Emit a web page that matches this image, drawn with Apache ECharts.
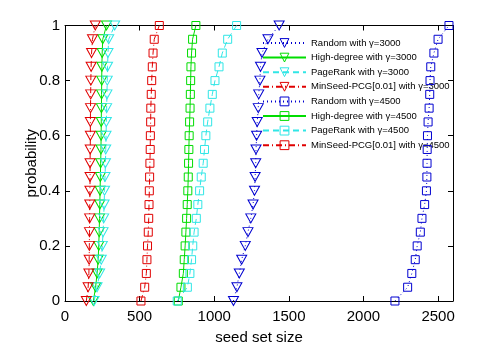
<!DOCTYPE html>
<html><head><meta charset="utf-8">
<script src="https://cdn.jsdelivr.net/npm/echarts@6/dist/echarts.min.js"></script>
<style>html,body{margin:0;padding:0;background:#fff}#c{width:501px;height:350px}</style>
</head><body><div id="c"></div>
<script>
const probability = [0, 0.05, 0.1, 0.15, 0.2, 0.25, 0.3, 0.35, 0.4, 0.45, 0.5, 0.55, 0.6, 0.65, 0.7, 0.75, 0.8, 0.85, 0.9, 0.95, 1];
const xTicks = [0, 500, 1000, 1500, 2000, 2500];
const yTicks = [0, 0.2, 0.4, 0.6, 0.8, 1];

const random3000     = [1129, 1152, 1168, 1184, 1208, 1226, 1245, 1260, 1270, 1274, 1278, 1280, 1284, 1288, 1295, 1298, 1306, 1310, 1320, 1360, 1435];
const highDegree3000 = [190, 205, 215, 222, 226, 229, 231, 233, 235, 237, 239, 241, 242, 243, 244, 245, 246, 247, 249, 253, 278];
const pageRank3000   = [195, 215, 232, 243, 250, 255, 259, 262, 265, 268, 271, 273, 275, 277, 279, 281, 283, 285, 288, 293, 333];
const minSeed3000    = [143, 155, 160, 162, 163, 164, 165, 166, 167, 168, 168, 169, 170, 170, 171, 172, 173, 175, 178, 184, 203];
const random4500     = [2211, 2296, 2324, 2347, 2360, 2381, 2392, 2410, 2422, 2425, 2426, 2427, 2429, 2433, 2440, 2444, 2446, 2451, 2472, 2500, 2573];
const highDegree4500 = [759, 777, 793, 799, 805, 810, 815, 819, 823, 826, 828, 830, 832, 835, 838, 840, 842, 844, 848, 855, 877];
const pageRank4500   = [752, 820, 837, 848, 856, 865, 880, 890, 902, 913, 926, 935, 944, 956, 971, 987, 1005, 1032, 1054, 1090, 1150];
const minSeed4500    = [509, 534, 545, 549, 553, 558, 561, 563, 565, 567, 569, 571, 572, 574, 575, 578, 581, 585, 590, 598, 632];

const names = [
  'Random with \u03b3=3000', 'High-degree with \u03b3=3000', 'PageRank with \u03b3=3000', 'MinSeed-PCG[0.01] with \u03b3=3000',
  'Random with \u03b3=4500', 'High-degree with \u03b3=4500', 'PageRank with \u03b3=4500', 'MinSeed-PCG[0.01] with \u03b3=4500'
];
const values = [random3000, highDegree3000, pageRank3000, minSeed3000, random4500, highDegree4500, pageRank4500, minSeed4500];
const colors = ['#0000d0', '#00dd00', '#30e6e6', '#e00000'];
const dashes = [[1, 3], 'solid', [6, 4], [6, 3, 1, 3]];

const series = [];
values.forEach((vals, i) => {
  const kind = i % 4;
  const tri = i < 4;
  const pts = vals.map((v, k) => [v, probability[k]]);
  series.push({
    name: names[i],
    type: 'line',
    data: pts,
    symbol: tri ? 'triangle' : 'rect',
    symbolRotate: tri ? 180 : 0,
    symbolSize: tri ? [10, 9] : [8, 8],
    showSymbol: false,
    color: colors[kind],
    lineStyle: { color: colors[kind], width: 1, type: dashes[kind] },
    itemStyle: { color: colors[kind] },
    emphasis: { disabled: true },
    silent: true,
    z: 2 + i
  });
  series.push({
    name: names[i],
    type: 'scatter',
    data: pts,
    symbol: tri ? 'triangle' : 'rect',
    symbolRotate: tri ? 180 : 0,
    symbolSize: tri ? [10, 9] : [8, 8],
    itemStyle: { color: 'rgba(0,0,0,0)', borderColor: colors[kind], borderWidth: 1, opacity: 1 },
    emphasis: { disabled: true },
    silent: true,
    z: 2 + i
  });
});

const axisCommon = {
  axisLine: { show: true, onZero: false, lineStyle: { color: '#000', width: 1 } },
  axisTick: { show: true, inside: true, length: 5, lineStyle: { color: '#000' } },
  splitLine: { show: false }
};
const labelFont = { color: '#000', fontSize: 15, fontFamily: 'Liberation Sans, Arial, sans-serif' };

const legendData = names.map((n, i) => ({
  name: n,
  itemStyle: { color: 'rgba(0,0,0,0)', borderColor: colors[i % 4], borderWidth: 1 }
}));

const chart = echarts.init(document.getElementById('c'), null, { renderer: 'canvas' });
chart.setOption({
  animation: false,
  backgroundColor: '#fff',
  grid: { left: 65, top: 25.5, width: 388, height: 280.5, containLabel: false },
  legend: {
    orient: 'vertical', left: 262, top: 37.5, padding: 0,
    itemWidth: 43, itemHeight: 11, itemGap: 3.6,
    textStyle: { color: '#000', fontSize: 9.5, lineHeight: 11, fontFamily: 'Liberation Sans, Arial, sans-serif' },
    selectedMode: false,
    data: legendData
  },
  xAxis: [
    Object.assign({}, axisCommon, {
      type: 'value', min: xTicks[0], max: 2600, interval: xTicks[1] - xTicks[0], position: 'bottom',
      name: 'seed set size', nameLocation: 'middle', nameGap: 29, nameMoveOverlap: false,
      nameTextStyle: labelFont,
      axisLabel: Object.assign({ margin: 8, showMaxLabel: false, formatter: v => String(v) }, labelFont)
    }),
    Object.assign({}, axisCommon, {
      type: 'value', min: xTicks[0], max: 2600, interval: xTicks[1] - xTicks[0], position: 'top',
      axisLabel: { show: false }
    })
  ],
  yAxis: [
    Object.assign({}, axisCommon, {
      type: 'value', min: yTicks[0], max: yTicks[yTicks.length - 1], interval: yTicks[1] - yTicks[0], position: 'left',
      name: 'probability', nameLocation: 'middle', nameGap: 26, nameRotate: 90, nameMoveOverlap: false,
      nameTextStyle: labelFont,
      axisLabel: Object.assign({ margin: 5, formatter: v => String(+v.toFixed(1)) }, labelFont)
    }),
    Object.assign({}, axisCommon, {
      type: 'value', min: yTicks[0], max: yTicks[yTicks.length - 1], interval: yTicks[1] - yTicks[0], position: 'right',
      axisLabel: { show: false }
    })
  ],
  series: series
});
</script>
</body></html>
